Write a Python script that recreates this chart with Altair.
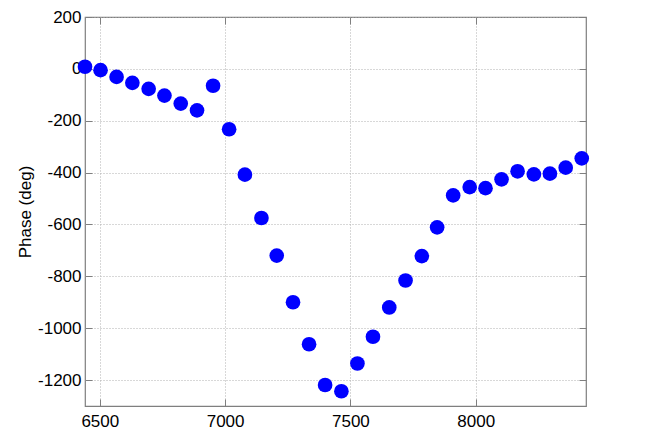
import altair as alt
import pandas as pd

freq = [6441, 6503, 6567, 6630, 6695, 6758, 6823, 6888, 6952, 7016, 7079, 7145,
        7206, 7271, 7335, 7399, 7464, 7528, 7590, 7655, 7720, 7785, 7846, 7910,
        7976, 8039, 8103, 8167, 8232, 8296, 8359, 8423]
phase = [8, -5, -31, -54, -77, -103, -134, -160, -65, -233, -408, -575,
         -720, -900, -1062, -1219, -1243, -1136, -1033, -920, -816, -722, -611, -488,
         -456, -460, -426, -395, -407, -404, -381, -345]

x_ticks = [6500, 7000, 7500, 8000]
y_ticks = [200, 0, -200, -400, -600, -800, -1000, -1200]
x_domain = [6441, 8440]
y_domain = [-1300, 200]

df = pd.DataFrame({"f": freq, "p": phase})
FONT = "Liberation Sans"
EDGE = "#7f7f7f"

xs = alt.Scale(domain=x_domain, nice=False, zero=False)
ys = alt.Scale(domain=y_domain, nice=False, zero=False)

base = alt.Chart(df)

main = base.mark_circle(size=215, color="#0000ff", opacity=1).encode(
    x=alt.X("f:Q", scale=xs, axis=alt.Axis(
        values=x_ticks, orient="bottom", title=None, grid=True,
        gridDash=[1, 2], gridColor="#b0b0b0", ticks=False, domain=False,
        labelFont=FONT, labelFontSize=17, labelPadding=7, labelColor="#000",
        labelExpr="'' + datum.value")),
    y=alt.Y("p:Q", scale=ys, axis=alt.Axis(
        values=y_ticks, orient="left", title="Phase (deg)", grid=True,
        gridDash=[1, 2], gridColor="#b0b0b0", ticks=False, domain=False,
        labelFont=FONT, labelFontSize=17, labelPadding=4, labelColor="#000",
        labelExpr="'' + datum.value",
        titleFont=FONT, titleFontSize=17, titleFontWeight="normal",
        titleColor="#000", titlePadding=3)),
)

def tick_layer(xo, yo):
    return base.mark_circle(opacity=0).encode(
        x=alt.X("f:Q", scale=xs, axis=alt.Axis(
            values=x_ticks, orient=xo, title=None, grid=False, labels=False,
            domain=False, ticks=True, tickSize=7, tickColor=EDGE, offset=-7)),
        y=alt.Y("p:Q", scale=ys, axis=alt.Axis(
            values=y_ticks, orient=yo, title=None, grid=False, labels=False,
            domain=False, ticks=True, tickSize=7, tickColor=EDGE, offset=-7)),
    )

chart = alt.layer(main, tick_layer("top", "right"), tick_layer("bottom", "left")).resolve_axis(
    x="independent", y="independent"
).properties(
    width=501, height=389,
    padding={"left": 77, "top": 9, "right": 20, "bottom": 26},
    autosize=alt.AutoSizeParams(type="none"),
).configure_view(stroke=EDGE, strokeWidth=1.2)

chart.save("out.html", embed_options={"renderer": "svg", "actions": False})
